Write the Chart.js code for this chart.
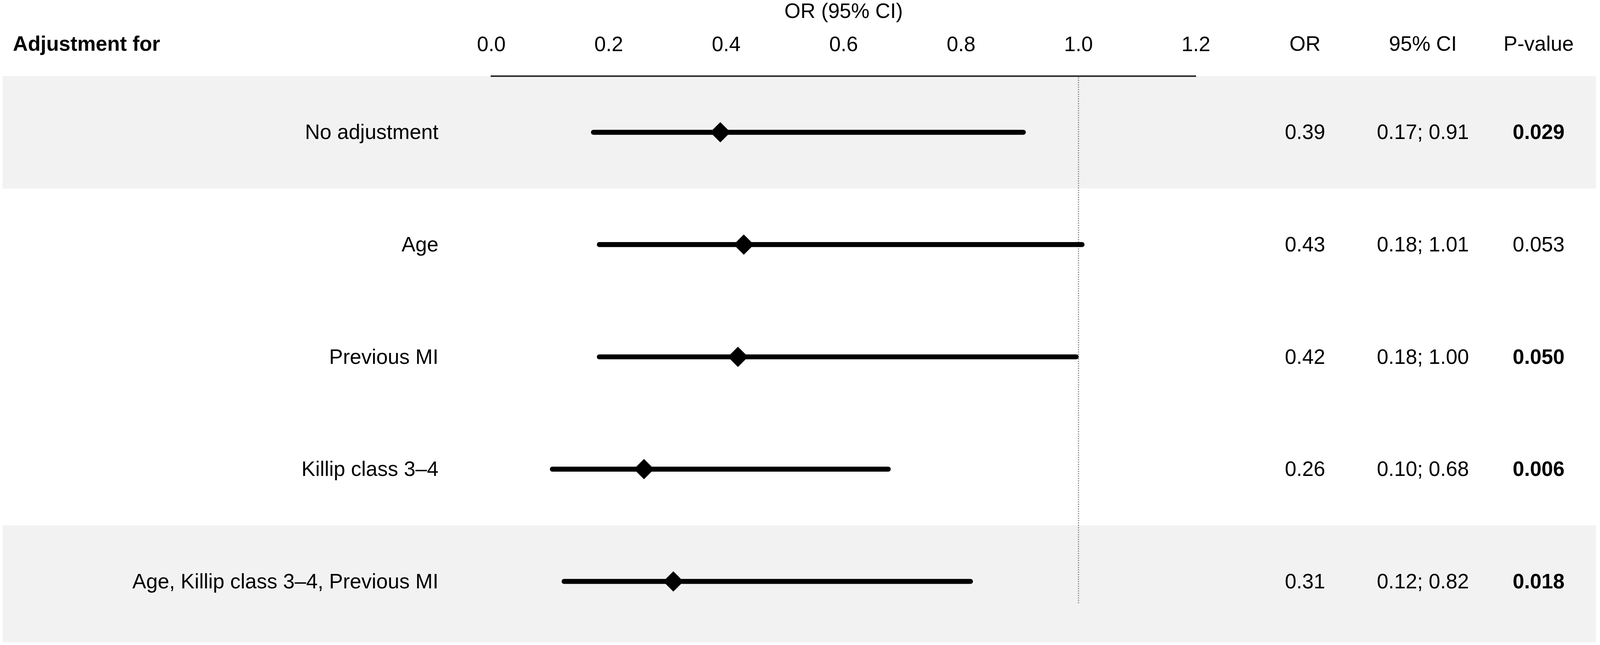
<!DOCTYPE html>
<html>
<head>
<meta charset="utf-8">
<script src="https://cdn.jsdelivr.net/npm/chart.js@4.4.1/dist/chart.umd.min.js"></script>
<style>
  html, body { margin: 0; padding: 0; background: #ffffff; overflow: hidden; }
  canvas { display: block; }
</style>
</head>
<body>
<canvas id="c"></canvas>
<script>
// ---- data ----
const rowLabels = ['No adjustment', 'Age', 'Previous MI', 'Killip class 3–4', 'Age, Killip class 3–4, Previous MI'];
const orValues = [0.39, 0.43, 0.42, 0.26, 0.31];
const ciLow = [0.17, 0.18, 0.18, 0.10, 0.12];
const ciHigh = [0.91, 1.01, 1.00, 0.68, 0.82];
const pValues = ['0.029', '0.053', '0.050', '0.006', '0.018'];
const shadedRows = [0, 4];
const xMin = 0.0, xMax = 1.2, xStep = 0.2;
const refValue = 1.0;
const headerLabel = 'Adjustment for';
const axisTitle = 'OR (95% CI)';
const columnHeaders = ['OR', '95% CI', 'P-value'];

// ---- layout (designed on a 4328 x 1652 page, scaled horizontally to the window) ----
const W = window.innerWidth || 4328;
const H = window.innerHeight || 1652;
const sx = W / 4328;
const sy = H / 1652;
const FONT = "'Liberation Sans', Arial, sans-serif";
const FS = Math.round(53 * Math.min(1, sy));
const colX = [3530, 3849, 4162].map(v => v * sx);
const labelRightX = 1186 * sx;
const headerX = 35 * sx;
const headY = 115 * sy;

const canvas = document.getElementById('c');
canvas.width = W;
canvas.height = H;
canvas.style.width = W + 'px';
canvas.style.height = H + 'px';

const tablePlugin = {
  id: 'tablePlugin',
  beforeDraw(chart) {
    const ctx = chart.ctx;
    const y = chart.scales.y, x = chart.scales.x;
    const half = (y.getPixelForValue(1) - y.getPixelForValue(0)) / 2;
    ctx.save();
    ctx.fillStyle = '#f2f2f2';
    shadedRows.forEach(i => {
      const c = y.getPixelForValue(i);
      const extra = (i === rowLabels.length - 1) ? 12 * sy : 0;
      ctx.fillRect(7 * sx, c - half, W - 18 * sx, half * 2 + extra);
    });
    const rx = x.getPixelForValue(refValue);
    ctx.strokeStyle = '#8c8c8c';
    ctx.lineWidth = 3;
    ctx.setLineDash([3, 3]);
    ctx.beginPath();
    ctx.moveTo(rx, chart.chartArea.top + 3);
    ctx.lineTo(rx, y.getPixelForValue(rowLabels.length - 1) + 58 * sy);
    ctx.stroke();
    ctx.restore();
  },
  afterDraw(chart) {
    const ctx = chart.ctx;
    const y = chart.scales.y;
    ctx.save();
    ctx.fillStyle = '#000';
    ctx.textBaseline = 'middle';
    ctx.font = `bold ${FS}px ${FONT}`;
    ctx.textAlign = 'left';
    ctx.fillText(headerLabel, headerX, headY);
    ctx.font = `${FS}px ${FONT}`;
    ctx.textAlign = 'center';
    columnHeaders.forEach((h, k) => ctx.fillText(h, colX[k], headY));
    rowLabels.forEach((lab, i) => {
      const cy = y.getPixelForValue(i) + 3;
      ctx.font = `${FS}px ${FONT}`;
      ctx.textAlign = 'right';
      ctx.fillText(lab, labelRightX, cy);
      ctx.textAlign = 'center';
      ctx.fillText(orValues[i].toFixed(2), colX[0], cy);
      ctx.fillText(ciLow[i].toFixed(2) + '; ' + ciHigh[i].toFixed(2), colX[1], cy);
      const bold = parseFloat(pValues[i]) <= 0.05;
      ctx.font = `${bold ? 'bold ' : ''}${FS}px ${FONT}`;
      ctx.fillText(pValues[i], colX[2], cy);
    });
    ctx.restore();
  }
};

new Chart(canvas, {
  data: {
    labels: rowLabels,
    datasets: [
      {
        type: 'bar',
        data: ciLow.map((l, i) => [l, ciHigh[i]]),
        backgroundColor: '#000',
        barThickness: 12,
        borderRadius: 6,
        borderSkipped: false,
        order: 2
      },
      {
        type: 'line',
        data: orValues.map((v, i) => ({ x: v, y: rowLabels[i] })),
        showLine: false,
        pointStyle: 'rectRot',
        pointRadius: 26,
        pointHoverRadius: 26,
        pointBackgroundColor: '#000',
        pointBorderColor: '#000',
        pointBorderWidth: 0,
        order: 1
      }
    ]
  },
  options: {
    indexAxis: 'y',
    responsive: false,
    devicePixelRatio: 1,
    animation: false,
    layout: {
      autoPadding: false,
      padding: { left: 1329 * sx, right: W - 3235 * sx, top: 0, bottom: 19 * sy }
    },
    plugins: { legend: { display: false }, tooltip: { enabled: false } },
    scales: {
      x: {
        type: 'linear',
        position: 'top',
        min: xMin,
        max: xMax,
        ticks: {
          stepSize: xStep,
          color: '#000',
          font: { family: FONT, size: FS, lineHeight: 1.2 },
          padding: 47 * sy,
          callback: v => Number(v).toFixed(1)
        },
        grid: { display: false, drawTicks: false },
        border: { display: true, color: '#2b2b2b', width: 4 },
        title: {
          display: true,
          text: axisTitle,
          color: '#000',
          font: { family: FONT, size: FS, lineHeight: 1.2 },
          padding: { top: 0, bottom: 16 }
        },
        afterFit(scale) { scale.height = 195 * sy; }
      },
      y: {
        type: 'category',
        labels: rowLabels,
        display: false,
        offset: true
      }
    }
  },
  plugins: [tablePlugin]
});
</script>
</body>
</html>
